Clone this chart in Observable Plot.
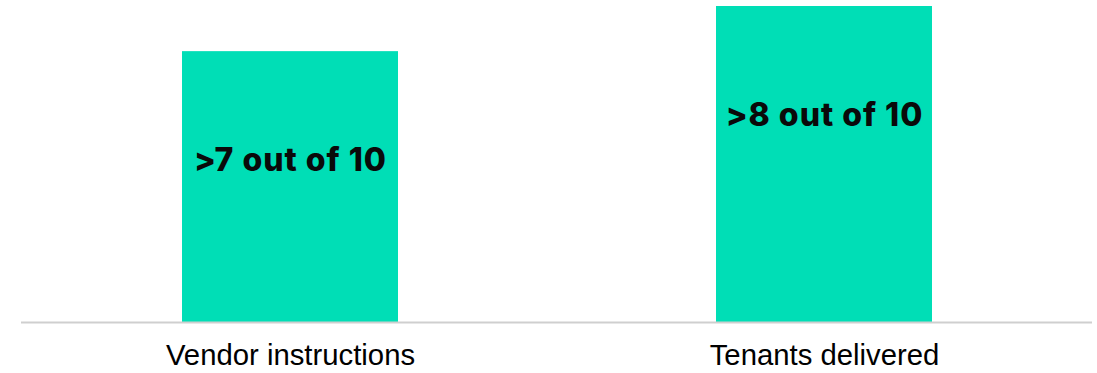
<!DOCTYPE html>
<html>
<head>
<meta charset="utf-8">
<script src="https://cdn.jsdelivr.net/npm/d3@7"></script>
<script src="https://cdn.jsdelivr.net/npm/@observablehq/plot@0.6"></script>
<style>
  html, body { margin: 0; padding: 0; background: #fff; }
  .chart g[aria-label="text"] text { letter-spacing: 1px; }
</style>
</head>
<body>
<div id="chart"></div>
<script>
const categories = ["Vendor instructions", "Tenants delivered"];
const values = [72, 84];
const labels = [">7 out of 10", ">8 out of 10"];

const data = categories.map((c, i) => ({category: c, value: values[i], label: labels[i]}));

const chart = Plot.plot({
  width: 1097,
  height: 373,
  marginLeft: 21,
  marginRight: 5,
  marginTop: 6,
  marginBottom: 51,
  className: "chart",
  style: {background: "#fff"},
  x: {domain: categories, paddingInner: 0.596, paddingOuter: 0.3, label: null},
  y: {domain: [0, 84], axis: null},
  marks: [
    Plot.barY(data, {x: "category", y: "value", fill: "#00DEB6"}),
    Plot.ruleY([0], {stroke: "#cfcfcf", strokeWidth: 2}),
    Plot.text(data, {
      x: "category", y: "value", text: "label",
      dy: 109, fill: "#0a0a0a", fontSize: 32, fontWeight: 800,
      fontFamily: "Inter", textAnchor: "middle", lineAnchor: "middle"
    }),
    Plot.axisX({
      tickSize: 0, tickPadding: 22, fontSize: 29.3,
      fontFamily: "Liberation Sans, Arial, sans-serif",
      fill: "#000", label: null
    })
  ]
});
document.getElementById("chart").append(chart);
</script>
</body>
</html>
